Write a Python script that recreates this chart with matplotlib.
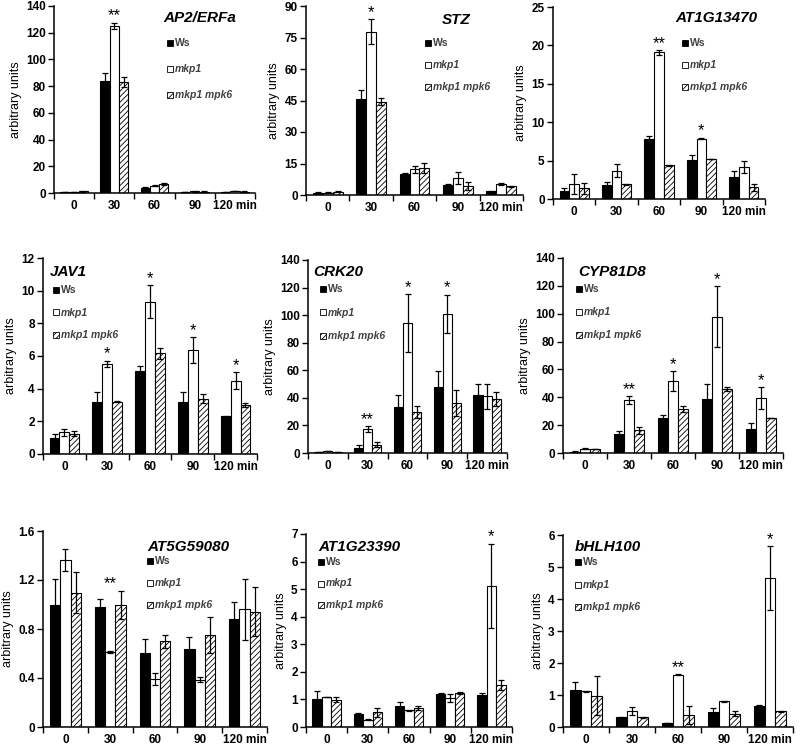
import matplotlib.pyplot as plt
from matplotlib.patches import Rectangle
from matplotlib.ticker import FuncFormatter
import numpy as np

plt.rcParams['font.family'] = ['Liberation Sans', 'DejaVu Sans']
plt.rcParams['hatch.linewidth'] = 0.6

times = ['0', '30', '60', '90', '120 min']
genotypes = ['Ws', 'mkp1', 'mkp1 mpk6']

# rows: Ws, mkp1, mkp1 mpk6 ; columns: 0, 30, 60, 90, 120 min
ap2_mean = [[0.8, 84, 4.0, 0.8, 0.6], [0.8, 125, 5.5, 1.2, 1.5], [1.2, 83, 6.5, 1.0, 1.0]]
ap2_err = [[0.2, 6, 0.5, 0.2, 0.2], [0.2, 2.5, 0.5, 0.2, 0.3], [0.2, 4, 0.7, 0.2, 0.2]]
ap2_stars = {1: '**'}

stz_mean = [[1.0, 45.5, 10.0, 4.8, 1.8], [1.0, 77.8, 12.2, 8.0, 5.2], [1.5, 44.4, 13.0, 4.3, 4.2]]
stz_err = [[0.2, 4.5, 0.7, 0.5, 0.2], [0.2, 6.0, 1.8, 2.8, 0.6], [0.3, 1.6, 2.4, 1.7, 0.2]]
stz_stars = {1: '*'}

at13470_mean = [[1.08, 1.8, 7.86, 5.14, 2.9], [2.0, 3.7, 19.1, 7.86, 4.2], [1.4, 1.9, 4.4, 5.2, 1.5]]
at13470_err = [[0.3, 0.45, 0.3, 0.55, 0.75], [1.3, 0.8, 0.3, 0.1, 0.8], [0.7, 0.1, 0.05, 0.05, 0.4]]
at13470_stars = {2: '**', 3: '*'}

jav1_mean = [[0.98, 3.2, 5.1, 3.2, 2.3], [1.32, 5.5, 9.33, 6.37, 4.48], [1.24, 3.2, 6.17, 3.38, 3.0]]
jav1_err = [[0.26, 0.57, 0.3, 0.6, 0.05], [0.2, 0.2, 1.0, 0.78, 0.52], [0.15, 0.02, 0.33, 0.28, 0.1]]
jav1_stars = {1: '*', 2: '*', 3: '*', 4: '*'}

crk20_mean = [[0.8, 3.6, 33.3, 48.1, 42.3], [1.5, 17.1, 94.2, 100.7, 41.0], [0.8, 6.0, 29.5, 36.2, 38.9]]
crk20_err = [[0.2, 2.2, 8.5, 11.6, 8.0], [0.3, 2.2, 21.0, 14.0, 9.2], [0.2, 2.0, 4.3, 9.2, 5.0]]
crk20_stars = {1: '**', 2: '*', 3: '*'}

cyp_mean = [[1.0, 13.9, 25.1, 38.8, 17.2], [3.1, 37.8, 51.4, 98.0, 39.5], [3.0, 16.3, 31.6, 45.9, 25.1]]
cyp_err = [[0.2, 1.6, 2.4, 11.0, 4.3], [0.2, 2.9, 7.2, 21.6, 7.6], [0.2, 2.4, 2.4, 1.5, 0.3]]
cyp_stars = {1: '**', 2: '*', 3: '*', 4: '*'}

at59080_mean = [[1.0, 0.976, 0.605, 0.635, 0.88], [1.363, 0.613, 0.39, 0.387, 0.962], [1.096, 0.995, 0.70, 0.75, 0.94]]
at59080_err = [[0.21, 0.065, 0.117, 0.1, 0.14], [0.087, 0.005, 0.05, 0.02, 0.25], [0.166, 0.117, 0.055, 0.145, 0.2]]
at59080_stars = {1: '**'}

at23390_mean = [[1.03, 0.47, 0.75, 1.21, 1.17], [1.09, 0.27, 0.6, 1.05, 5.12], [0.99, 0.53, 0.68, 1.23, 1.51]]
at23390_err = [[0.26, 0.02, 0.14, 0.02, 0.06], [0.01, 0.01, 0.01, 0.15, 1.52], [0.09, 0.15, 0.07, 0.03, 0.18]]
at23390_stars = {4: '*'}

bhlh_mean = [[1.16, 0.3, 0.12, 0.46, 0.67], [1.11, 0.51, 1.63, 0.8, 4.65], [0.98, 0.3, 0.38, 0.42, 0.49]]
bhlh_err = [[0.26, 0.01, 0.01, 0.13, 0.01], [0.01, 0.13, 0.02, 0.02, 1.0], [0.6, 0.01, 0.29, 0.07, 0.02]]
bhlh_stars = {2: '**', 4: '*'}

panels = [
    ('AP2/ERFa', ap2_mean, ap2_err, ap2_stars, 140, 20),
    ('STZ', stz_mean, stz_err, stz_stars, 90, 15),
    ('AT1G13470', at13470_mean, at13470_err, at13470_stars, 25, 5),
    ('JAV1', jav1_mean, jav1_err, jav1_stars, 12, 2),
    ('CRK20', crk20_mean, crk20_err, crk20_stars, 140, 20),
    ('CYP81D8', cyp_mean, cyp_err, cyp_stars, 140, 20),
    ('AT5G59080', at59080_mean, at59080_err, at59080_stars, 1.6, 0.4),
    ('AT1G23390', at23390_mean, at23390_err, at23390_stars, 7, 1),
    ('bHLH100', bhlh_mean, bhlh_err, bhlh_stars, 6, 1),
]

# layout in pixels: axes (left, top, right, bottom), title (x, y, ha), legend (x, y0, dy)
axes_px = [(54, 6, 255, 193), (306, 6, 523, 195), (553, 7, 765, 199),
           (43, 258, 257, 454), (308, 260, 507, 453), (563, 258, 783, 453),
           (43, 531, 267, 727), (306, 534, 512, 727), (563, 535, 793, 727)]
title_px = [(200, 18, 'center'), (456, 20, 'center'), (716, 18, 'center'),
            (50, 272, 'left'), (313, 272, 'left'), (578, 272, 'left'),
            (147, 547, 'left'), (318, 547, 'left'), (575, 547, 'left')]
legend_px = [(167, 43, 26), (425, 43, 22), (682, 43, 22),
             (53, 290, 22.5), (320, 289, 23.5), (576, 289, 23),
             (147, 561, 22), (318, 562, 21.5), (575, 562, 22.5)]

W, H = 800, 747
fig = plt.figure(figsize=(W / 100, H / 100), dpi=100)

bar_style = [dict(facecolor='black', hatch=None),
             dict(facecolor='white', hatch=None),
             dict(facecolor='white', hatch='//////')]
bw = 0.23

for p, (name, mean, err, stars, ymax, ystep) in enumerate(panels):
    l, t, r, b = axes_px[p]
    ax = fig.add_axes([l / W, 1 - b / H, (r - l) / W, (b - t) / H])
    x = np.arange(len(times))
    for i in range(3):
        xs = x + (i - 1) * bw
        ax.bar(xs, mean[i], bw, edgecolor='black', linewidth=0.8, zorder=2, **bar_style[i])
        ax.errorbar(xs, mean[i], yerr=err[i], fmt='none', ecolor='black',
                    elinewidth=0.9, capsize=2.5, capthick=0.9, zorder=3)
    tops = np.max(np.array(mean) + np.array(err), axis=0)
    for k, s in stars.items():
        ax.text(x[k], tops[k] + 0.012 * ymax, s, ha='center', va='baseline',
                fontsize=12, zorder=4)

    ax.set_xlim(-0.5, len(times) - 0.5)
    ax.set_ylim(0, ymax)
    ax.set_yticks(np.arange(0, ymax + ystep / 2, ystep))
    ax.yaxis.set_major_formatter(FuncFormatter(lambda v, _: '%g' % round(v, 2)))
    ax.set_xticks(x)
    ax.set_xticklabels(times)
    ax.set_xticks(np.arange(-0.5, len(times), 1), minor=True)
    ax.tick_params(axis='x', which='major', length=0, pad=5)
    ax.tick_params(axis='x', which='minor', length=4, width=1, direction='out')
    ax.tick_params(axis='y', length=4, width=1, direction='out', pad=2)
    for lab in ax.get_xticklabels() + ax.get_yticklabels():
        lab.set_fontsize(8.5)
        lab.set_fontweight('bold')
    for sp in ['top', 'right']:
        ax.spines[sp].set_visible(False)
    for sp in ['left', 'bottom']:
        ax.spines[sp].set_linewidth(1.1)
    ax.set_ylabel('arbitrary units', fontsize=9, labelpad=3)

    tx, ty, ha = title_px[p]
    fig.text(tx / W, 1 - ty / H, name, ha=ha, va='center', fontsize=11,
             fontweight='bold', fontstyle='italic')

    lx, ly, dy = legend_px[p]
    for i, g in enumerate(genotypes):
        yc = ly + i * dy
        rect = Rectangle((lx / W, 1 - (yc + 3) / H), 6 / W, 6 / H, transform=fig.transFigure,
                         edgecolor='black', linewidth=0.6, **bar_style[i])
        fig.add_artist(rect)
        fig.text((lx + 8) / W, 1 - yc / H, g, ha='left', va='center', fontsize=7.5,
                 color='#404040', fontweight='bold',
                 fontstyle='normal' if i == 0 else 'italic')

fig.savefig('out.png', dpi=100)
